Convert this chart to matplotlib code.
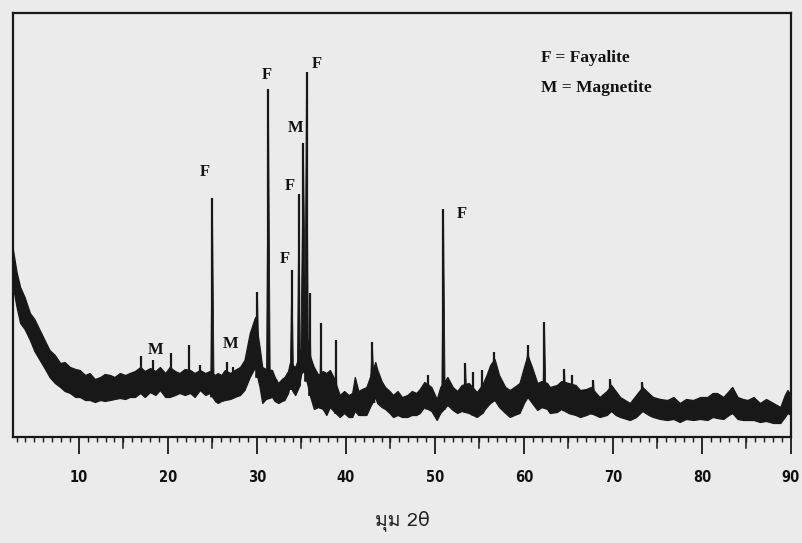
import numpy as np
import matplotlib
matplotlib.use("Agg")
import matplotlib.pyplot as plt
from matplotlib import font_manager
from matplotlib.ft2font import FT2Font
from matplotlib.ticker import MultipleLocator

# ---------------- data ----------------
# background noise band of the diffractogram: 2theta, upper and lower edge (a.u.)
bg_deg = [2.6, 3.0, 3.4, 3.9, 4.5, 5.0, 5.6, 6.2, 6.7, 7.3, 7.9, 8.4, 9.0, 9.6, 10.1,
          10.7, 11.2, 11.8, 12.4, 12.9, 13.5, 14.0, 14.6, 15.2, 15.7, 16.3, 16.9, 17.4,
          18.0, 18.6, 19.1, 19.7, 20.2, 20.8, 21.3, 21.9, 22.5, 23.0, 23.6, 24.2, 24.7,
          25.3, 25.6, 26.0, 26.4, 27.0, 27.5, 28.1, 28.6, 29.2, 29.8, 30.3, 30.6, 31.0,
          31.7, 32.0, 32.4, 32.8, 33.1, 33.5, 33.7, 34.0, 34.3, 34.7, 35.0, 35.3, 35.6,
          36.0, 36.4, 36.9, 37.4, 37.8, 38.2, 38.6, 39.3, 39.8, 40.3, 40.7, 41.0, 41.4,
          41.8, 42.3, 42.7, 43.3, 43.5, 44.0, 44.4, 44.9, 45.3, 45.8, 46.3, 46.9, 47.4,
          47.9, 48.3, 48.8, 49.6, 50.2, 50.6, 51.4, 52.0, 52.5, 53.0, 53.8, 54.7, 55.3,
          55.8, 56.2, 56.7, 57.2, 57.9, 58.4, 58.9, 59.5, 60.0, 60.4, 60.9, 61.5, 62.0,
          62.6, 62.9, 63.7, 64.2, 65.0, 65.8, 66.3, 67.0, 67.5, 68.5, 69.3, 69.8, 70.3,
          70.8, 71.9, 72.6, 73.3, 74.0, 74.5, 75.3, 76.1, 76.8, 77.5, 78.2, 79.0, 79.8,
          80.6, 81.2, 81.7, 82.4, 83.0, 83.4, 84.0, 84.6, 85.1, 85.8, 86.5, 87.2, 88.0,
          88.8, 89.3, 89.6, 90.0]
bg_high = [187, 165, 150, 140, 124, 118, 107, 96, 87, 82, 74, 75, 70, 68, 67,
           62, 64, 58, 60, 63, 62, 60, 64, 62, 64, 66, 70, 66,
           69, 66, 70, 64, 70, 66, 64, 68, 67, 64, 67, 64, 66,
           62, 64, 62, 67, 64, 67, 70, 77, 104, 120, 90, 70, 68,
           67, 60, 54, 58, 60, 66, 74, 72, 70, 80, 90, 100, 100,
           80, 70, 62, 66, 64, 67, 60, 42, 46, 42, 44, 60, 46,
           48, 50, 60, 75, 68, 56, 50, 46, 42, 46, 40, 42, 46,
           44, 48, 55, 50, 38, 50, 60, 50, 46, 52, 54, 45, 52,
           62, 72, 78, 62, 50, 47, 50, 54, 70, 82, 70, 54, 56,
           54, 50, 52, 56, 54, 52, 47, 48, 50, 40, 46, 52, 46,
           40, 34, 42, 50, 44, 40, 38, 37, 40, 34, 38, 37, 40,
           40, 44, 44, 40, 46, 50, 40, 38, 37, 40, 34, 38, 34,
           30, 42, 47, 42]
bg_low = [150, 130, 114, 108, 97, 86, 77, 68, 60, 54, 50, 46, 44, 40, 40,
          37, 37, 35, 37, 36, 37, 38, 39, 38, 40, 40, 44, 40,
          45, 42, 47, 40, 40, 42, 44, 42, 44, 40, 47, 42, 44,
          36, 34, 36, 37, 38, 40, 42, 47, 60, 70, 50, 34, 38,
          40, 36, 34, 36, 37, 44, 52, 46, 42, 50, 64, 66, 55,
          40, 28, 30, 28, 22, 30, 26, 20, 24, 20, 20, 26, 22,
          22, 22, 30, 40, 34, 30, 28, 24, 20, 22, 20, 20, 22,
          22, 24, 30, 26, 17, 24, 32, 27, 24, 26, 24, 20, 24,
          30, 34, 37, 30, 24, 20, 22, 24, 34, 40, 34, 27, 30,
          28, 24, 25, 28, 24, 22, 20, 22, 24, 20, 22, 26, 22,
          20, 17, 20, 26, 22, 20, 18, 17, 18, 15, 18, 17, 18,
          17, 20, 19, 18, 22, 24, 18, 17, 17, 17, 15, 16, 14,
          14, 20, 24, 22]

# sharp reflections: position (2theta), top intensity (a.u.), half width at base (deg)
peak_deg = [16.97, 18.31, 20.34, 22.36, 23.60, 25.00, 26.63, 27.30, 30.06, 31.29,
            33.93, 34.72, 35.22, 35.58, 35.96, 37.19, 38.88, 42.96, 49.21, 50.96,
            53.43, 54.27, 55.28, 56.63, 60.45, 62.30, 64.55, 65.39, 67.81, 69.72,
            73.31, 83.37]
peak_top = [81, 77, 84, 92, 72, 239, 75, 70, 145, 348,
            167, 243, 294, 365, 144, 114, 97, 95, 62, 228,
            74, 65, 67, 85, 92, 115, 68, 62, 57, 58,
            55, 49]
peak_halfwidth = [0.12, 0.15, 0.12, 0.10, 0.12, 0.20, 0.15, 0.12, 0.20, 0.22,
                  0.20, 0.18, 0.30, 0.22, 0.15, 0.15, 0.15, 0.30, 0.30, 0.20,
                  0.20, 0.15, 0.20, 0.40, 0.40, 0.20, 0.20, 0.20, 0.25, 0.30,
                  0.35, 0.30]

# phase labels above the peaks
label_text = ["M", "F", "M", "F", "F", "M", "F", "F", "F"]
label_deg = [18.65, 24.16, 27.08, 33.15, 33.71, 34.38, 31.12, 36.74, 53.03]
label_h = [87, 265, 93, 178, 251, 309, 362, 373, 223]

legend_lines = ["F = Fayalite", "M = Magnetite"]
tick_values = [10, 20, 30, 40, 50, 60, 70, 80, 90]
x_label = "มุม 2θ"

# ---------------- fonts ----------------
thai_family = None
for f in font_manager.fontManager.ttflist:
    try:
        if 0x0E21 in FT2Font(f.fname).get_charmap():
            thai_family = f.name
            break
    except Exception:
        pass
xlabel_family = ([thai_family] if thai_family else []) + ["DejaVu Sans"]
serif = ["Liberation Serif", "DejaVu Serif"]

# ---------------- figure ----------------
bgc = "#ebebeb"
ink = "#181818"
fig = plt.figure(figsize=(8.02, 5.43), dpi=100, facecolor=bgc)
ax = fig.add_axes([13 / 802, 1 - 437 / 543, 778 / 802, 424 / 543], facecolor=bgc)

ax.fill_between(bg_deg, bg_low, bg_high, color=ink, lw=0.9)

for p, t, w in zip(peak_deg, peak_top, peak_halfwidth):
    base = float(np.interp(p, bg_deg, bg_low))
    ax.fill([p - w, p, p + w], [base, t, base], color=ink, lw=0.6)
    ax.vlines(p, base, t, color=ink, lw=1.6)

for s, x, y in zip(label_text, label_deg, label_h):
    ax.text(x, y, s, ha="center", va="center", fontsize=12, fontweight="bold",
            family=serif, color="#111111")

for i, s in enumerate(legend_lines):
    ax.text(61.9, 379 - 30 * i, s, ha="left", va="center", fontsize=12.5,
            fontweight="bold", family=serif, color="#111111")

ax.set_xlim(2.6, 90)
ax.set_ylim(0, 424)
ax.set_yticks([])
ax.set_xticks(tick_values)
ax.set_xticklabels([str(v) for v in tick_values], fontsize=10.5, fontweight="bold",
                   fontstretch="condensed", family=["DejaVu Sans"], color="#111111")
ax.xaxis.set_minor_locator(MultipleLocator(1))
ax.tick_params(axis="x", which="major", direction="out", length=12, width=1.3,
               pad=12, color=ink)
ax.tick_params(axis="x", which="minor", direction="out", length=3.5, width=1.0, color=ink)
for sp in ax.spines.values():
    sp.set_linewidth(1.6)
    sp.set_color(ink)

# medium ticks every 5 degrees
for v in np.arange(15, 90, 10):
    ax.plot([v, v], [0, -11], color=ink, lw=1.1, clip_on=False)

fig.text(402 / 802, 1 - 521 / 543, x_label, ha="center", va="center",
         fontsize=14, family=xlabel_family, color="#222222")

fig.savefig("out.png", dpi=100, facecolor=bgc)
